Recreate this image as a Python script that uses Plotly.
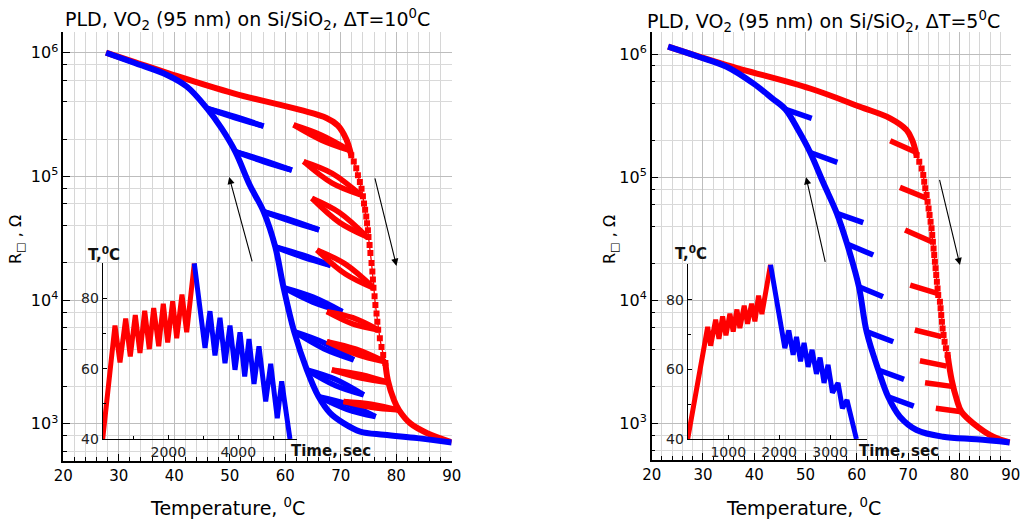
import plotly.graph_objects as go

W, H = 1020, 521
RED = "#ff0000"
BLUE = "#0000ff"
FONT = "DejaVu Sans"

# ================= LEFT PANEL (dT = 10 C) =================
L_heat_T = [27.7, 33.0, 38.7, 50.7, 62.7, 67.5, 69.5, 71.0, 71.9]
L_heat_logR = [6.0, 5.922, 5.838, 5.672, 5.537, 5.47, 5.41, 5.30, 5.17]
L_heatdot_T = [71.9, 72.35, 72.8, 73.1, 73.45, 73.75, 74.0, 74.2, 74.4, 74.6, 74.75, 74.9, 75.0,
               75.2, 75.35, 75.55, 75.7, 75.8, 75.9, 76.1, 76.25, 76.45, 76.6, 76.75, 77.05,
               77.35, 77.65, 78.05]
L_heatdot_logR = [5.17, 5.12, 5.065, 5.01, 4.955, 4.9, 4.84, 4.78, 4.73, 4.675, 4.62, 4.565, 4.51,
                  4.445, 4.38, 4.30, 4.23, 4.165, 4.10, 4.03, 3.96, 3.89, 3.825, 3.76, 3.69,
                  3.62, 3.555, 3.49]
L_heatlow_T = [78.05, 78.5, 79.6, 80.5, 82.6, 85.6, 90.0]
L_heatlow_logR = [3.49, 3.35, 3.19, 3.11, 3.0, 2.923, 2.85]

L_cool_T = [27.7, 33.0, 38.7, 42.3, 45.9, 48.5, 51.0, 53.6, 56.1, 58.2, 59.7, 61.6, 63.9, 66.0,
            68.1, 70.5, 73.5, 77.8, 83.8, 90.0]
L_cool_logR = [6.0, 5.915, 5.82, 5.725, 5.55, 5.39, 5.20, 4.93, 4.715, 4.43, 4.10, 3.745, 3.435,
               3.219, 3.085, 3.004, 2.936, 2.91, 2.883, 2.848]

# minor loops (start, end, upper-mid, lower-mid in log10 R)
L_bl_T0 = [45.9, 51.0, 56.1, 58.2, 59.7, 61.6, 63.9, 66.0]
L_bl_R0 = [5.55, 5.20, 4.715, 4.43, 4.10, 3.745, 3.435, 3.219]
L_bl_T1 = [56.1, 61.2, 66.1, 68.2, 70.3, 72.35, 74.15, 76.3]
L_bl_R1 = [5.407, 5.05, 4.567, 4.28, 3.906, 3.516, 3.233, 3.057]
L_bl_up = [5.483, 5.13, 4.646, 4.363, 4.023, 3.655, 3.359, 3.16]
L_bl_lo = [5.474, 5.12, 4.636, 4.347, 3.983, 3.606, 3.309, 3.116]

L_rl_T0 = [61.5, 63.3, 64.8, 65.7, 67.5, 67.5, 68.4, 70.5]
L_rl_R0 = [5.416, 5.12, 4.823, 4.405, 3.906, 3.664, 3.435, 3.18]
L_rl_T1 = [71.6, 73.6, 74.7, 76.0, 76.8, 78.0, 78.9, 80.5]
L_rl_R1 = [5.21, 4.85, 4.512, 4.095, 3.758, 3.50, 3.33, 3.11]
L_rl_up = [5.333, 5.025, 4.708, 4.29, 3.857, 3.602, 3.397, 3.158]
L_rl_lo = [5.293, 4.945, 4.628, 4.21, 3.807, 3.562, 3.368, 3.132]

# inset: temperature vs time
L_in_heat_t = [126, 477, 620, 783, 914, 1057, 1191, 1326, 1457, 1583, 1726, 1857, 1983, 2126,
               2240, 2391, 2526, 2743]
L_in_heat_T = [40, 72.3, 61.8, 74.3, 63.5, 75.3, 64.5, 76.5, 65.6, 77.3, 66.4, 78.5, 67.5, 79.2,
               68.7, 81.1, 70.4, 90]
L_in_cool_t = [2743, 3049, 3191, 3334, 3477, 3620, 3763, 3906, 4049, 4183, 4306, 4449, 4591,
               4783, 4926, 5114, 5240, 5477]
L_in_cool_T = [90, 65.9, 76.4, 63.8, 74.5, 61.6, 72.3, 59.7, 70.4, 57.8, 68.5, 55.7, 66.4,
               50.7, 61.4, 45.9, 56.4, 40]

# ================= RIGHT PANEL (dT = 5 C) =================
R_heat_T = [23.2, 34.6, 50.9, 60.6, 66.5, 69.7, 70.8, 71.65]
R_heat_logR = [6.06, 5.91, 5.72, 5.572, 5.478, 5.383, 5.30, 5.18]
R_heatdot_T = [71.65, 72.17, 72.63, 72.95, 73.14, 73.34, 73.6, 73.79, 73.99, 74.18, 74.38, 74.57,
               74.7, 74.83, 74.96, 75.09, 75.22, 75.35, 75.48, 75.61, 75.74, 75.87, 76.2,
               76.33, 76.46, 76.59, 76.72, 76.91, 77.11, 77.37, 77.7]
R_heatdot_logR = [5.18, 5.125, 5.071, 5.017, 4.963, 4.909, 4.855, 4.80, 4.746, 4.692, 4.638,
                  4.584, 4.53, 4.475, 4.421, 4.367, 4.313, 4.259, 4.205, 4.151, 4.096, 4.042,
                  3.988, 3.934, 3.88, 3.826, 3.771, 3.717, 3.663, 3.609, 3.555]
R_heatlow_T = [77.7, 78.5, 79.5, 80.4, 82.7, 86.6, 89.8]
R_heatlow_logR = [3.555, 3.35, 3.19, 3.094, 3.0, 2.891, 2.845]

R_cool_T = [23.2, 29.0, 34.6, 39.8, 43.5, 46.1, 48.6, 50.9, 53.5, 56.1, 58.1, 60.4, 61.9, 64.2,
            66.1, 68.4, 71.65, 76.8, 83.35, 89.8]
R_cool_logR = [6.06, 5.98, 5.897, 5.762, 5.64, 5.55, 5.38, 5.20, 4.95, 4.706, 4.457, 4.11, 3.745,
               3.433, 3.216, 3.054, 2.946, 2.891, 2.87, 2.845]

R_bb_T0 = [46.1, 50.9, 56.1, 58.1, 60.4, 61.9, 64.2, 66.1]
R_bb_R0 = [5.55, 5.20, 4.706, 4.457, 4.11, 3.745, 3.433, 3.216]
R_bb_T1 = [51.2, 56.2, 61.25, 63.2, 65.1, 67.1, 69.2, 71.1]
R_bb_R1 = [5.478, 5.12, 4.63, 4.367, 4.028, 3.663, 3.357, 3.14]

R_rb_T0 = [66.5, 68.4, 69.4, 70.4, 71.3, 72.3, 73.3, 75.4]
R_rb_R0 = [5.296, 4.917, 4.570, 4.123, 3.758, 3.508, 3.330, 3.122]
R_rb_T1 = [71.3, 73.6, 74.6, 75.7, 76.5, 77.5, 78.5, 80.4]
R_rb_R1 = [5.206, 4.828, 4.475, 4.056, 3.704, 3.465, 3.30, 3.094]

R_in_heat_t = [204, 596, 655, 753, 818, 890, 955, 1033, 1098, 1171, 1229, 1314, 1380, 1459,
               1524, 1596, 1661, 1831]
R_in_heat_T = [40, 72.2, 66.8, 74.3, 68.8, 75.2, 69.8, 76.0, 70.9, 77.2, 71.9, 78.3, 73.1, 78.9,
               73.8, 81.2, 75.9, 90.1]
R_in_cool_t = [1831, 2112, 2190, 2275, 2341, 2420, 2490, 2569, 2647, 2733, 2804, 2882, 2961,
               3047, 3157, 3243, 3333, 3518]
R_in_cool_T = [90.1, 66.1, 71.2, 64.2, 69.3, 62.3, 67.6, 60.7, 65.6, 58.7, 63.4, 56.1, 61.3,
               53.3, 56.1, 48.8, 51.2, 40]

# ---- axis tick labels ----
T_ticks = [20, 30, 40, 50, 60, 70, 80, 90]
R_ticks = [1e3, 1e4, 1e5, 1e6]
R_ticktext = ["10<sup>3</sup>", "10<sup>4</sup>", "10<sup>5</sup>", "10<sup>6</sup>"]
R_minor = [m * 10 ** e for e in (2, 3, 4, 5) for m in (2, 4, 6, 8)]

fig = go.Figure()


def P(v):
    return [10 ** x for x in v]


def line(xs, ys, color, xa, ya, width=6, shape="spline"):
    fig.add_trace(go.Scatter(x=xs, y=ys, mode="lines", xaxis=xa, yaxis=ya,
                             line=dict(color=color, width=width, shape=shape),
                             hoverinfo="skip", showlegend=False))


def dotted(xs, ys, color, xa, ya):
    fig.add_trace(go.Scatter(x=xs, y=P(ys), mode="lines+markers", xaxis=xa, yaxis=ya,
                             line=dict(color=color, width=1.3),
                             marker=dict(symbol="square", size=6, color=color),
                             hoverinfo="skip", showlegend=False))


def loops(T0, R0, T1, R1, up, lo, color, xa, ya):
    for i in range(len(T0)):
        tm = (T0[i] + T1[i]) / 2
        line([T0[i], tm, T1[i]], P([R0[i], up[i], R1[i]]), color, xa, ya, width=5.5)
        line([T0[i], tm, T1[i]], P([R0[i], lo[i], R1[i]]), color, xa, ya, width=5.5)


def branches(T0, R0, T1, R1, color, xa, ya):
    for i in range(len(T0)):
        line([T0[i], T1[i]], P([R0[i], R1[i]]), color, xa, ya, width=5.5, shape="linear")


# left main
loops(L_bl_T0, L_bl_R0, L_bl_T1, L_bl_R1, L_bl_up, L_bl_lo, BLUE, "x", "y")
loops(L_rl_T0, L_rl_R0, L_rl_T1, L_rl_R1, L_rl_up, L_rl_lo, RED, "x", "y")
line(L_heat_T, P(L_heat_logR), RED, "x", "y")
dotted(L_heatdot_T, L_heatdot_logR, RED, "x", "y")
line(L_heatlow_T, P(L_heatlow_logR), RED, "x", "y")
line(L_cool_T, P(L_cool_logR), BLUE, "x", "y")
# left inset
line(L_in_heat_t, L_in_heat_T, RED, "x2", "y2", width=5, shape="linear")
line(L_in_cool_t, L_in_cool_T, BLUE, "x2", "y2", width=5, shape="linear")

# right main
branches(R_bb_T0, R_bb_R0, R_bb_T1, R_bb_R1, BLUE, "x3", "y3")
branches(R_rb_T0, R_rb_R0, R_rb_T1, R_rb_R1, RED, "x3", "y3")
line(R_heat_T, P(R_heat_logR), RED, "x3", "y3")
dotted(R_heatdot_T, R_heatdot_logR, RED, "x3", "y3")
line(R_heatlow_T, P(R_heatlow_logR), RED, "x3", "y3")
line(R_cool_T, P(R_cool_logR), BLUE, "x3", "y3")
# right inset
line(R_in_heat_t, R_in_heat_T, RED, "x4", "y4", width=5, shape="linear")
line(R_in_cool_t, R_in_cool_T, BLUE, "x4", "y4", width=5, shape="linear")


def main_x(dom, anchor):
    return dict(domain=dom, anchor=anchor, range=[20, 90], tickvals=T_ticks, automargin=False,
                ticklabeloverflow="allow",
                ticks="inside", ticklen=7, tickwidth=1.2, tickcolor="black",
                showline=True, linecolor="black", linewidth=1.5,
                showgrid=True, gridcolor="#bdbdbd", gridwidth=1, zeroline=False,
                minor=dict(dtick=2, tick0=20, ticks="inside", ticklen=4, tickcolor="black",
                           showgrid=True, gridcolor="#d6d6d6"),
                tickfont=dict(family=FONT, size=15, color="black"))


def main_y(dom, anchor, rng):
    return dict(domain=dom, anchor=anchor, type="log", range=rng, automargin=False,
                ticklabeloverflow="allow",
                tickvals=R_ticks, ticktext=R_ticktext,
                ticks="inside", ticklen=7, tickwidth=1.2, tickcolor="black",
                showline=True, linecolor="black", linewidth=1.5,
                showgrid=True, gridcolor="#bdbdbd", zeroline=False,
                minor=dict(tickmode="array", tickvals=R_minor, ticks="inside", ticklen=4,
                           tickcolor="black", showgrid=True, gridcolor="#d9d9d9"),
                tickfont=dict(family=FONT, size=16, color="black"))


def inset_x(dom, anchor, rng, tv, mv):
    return dict(domain=dom, anchor=anchor, range=rng, tickvals=tv, automargin=False,
                ticks="inside", ticklen=4, tickcolor="black",
                showline=True, linecolor="black", linewidth=1.2,
                showgrid=False, zeroline=False,
                minor=dict(tickmode="array", tickvals=mv, ticks="inside", ticklen=3,
                           tickcolor="black", showgrid=False),
                tickfont=dict(family=FONT, size=14, color="#222"))


def inset_y(dom, anchor):
    return dict(domain=dom, anchor=anchor, range=[40, 90.2], tickvals=[40, 60, 80],
                automargin=False,
                ticks="inside", ticklen=4, tickcolor="black",
                showline=True, linecolor="black", linewidth=1.2,
                showgrid=False, zeroline=False,
                minor=dict(tickmode="array", tickvals=[50, 70, 90], ticks="inside",
                           ticklen=3, tickcolor="black", showgrid=False),
                tickfont=dict(family=FONT, size=14, color="#222"))


fig.update_layout(
    width=W, height=H, autosize=False,
    margin=dict(l=0, r=0, t=0, b=0, pad=0, autoexpand=False),
    paper_bgcolor="white", plot_bgcolor="rgba(0,0,0,0)",
    font=dict(family=FONT, color="black"),
    xaxis=main_x([63.3 / W, 451.7 / W], "y"),
    yaxis=main_y([1 - 461 / H, 1 - 31.7 / H], "x", [2.698, 6.17]),
    xaxis2=inset_x([102.7 / W, 296.7 / W], "y2", [126, 5669], [2000, 4000], [1000, 3000, 5000]),
    yaxis2=inset_y([1 - 439 / H, 1 - 262.7 / H], "x2"),
    xaxis3=main_x([651.7 / W, 1010.7 / W], "y3"),
    yaxis3=main_y([1 - 460 / H, 1 - 32 / H], "x3", [2.702, 6.179]),
    xaxis4=inset_x([687.7 / W, 866.7 / W], "y4", [204, 3720], [1000, 2000, 3000], []),
    yaxis4=inset_y([1 - 439 / H, 1 - 264.3 / H], "x4"),
)

ann = []


def txt(x, y, s, size, bold=False, angle=0):
    ann.append(dict(x=x / W, y=1 - y / H, xref="paper", yref="paper", text=s,
                    showarrow=False, textangle=angle, xanchor="center", yanchor="middle",
                    font=dict(family=FONT, size=size, color="black" if not bold else "#111",
                              weight="bold" if bold else "normal")))


txt(247.5, 20, "PLD, VO<sub>2</sub> (95 nm) on Si/SiO<sub>2</sub>, ΔT=10<sup>0</sup>C", 19)
txt(823, 21, "PLD, VO<sub>2</sub> (95 nm) on Si/SiO<sub>2</sub>, ΔT=5<sup>0</sup>C", 19)
txt(16, 240, "R<sub>□</sub> , Ω", 16, angle=-90)
txt(610, 240, "R<sub>□</sub> , Ω", 16, angle=-90)
txt(227.5, 507, "Temperature, <sup>0</sup>C", 19)
txt(803, 507, "Temperature, <sup>0</sup>C", 19)
txt(104, 254, "T,<sup>0</sup>C", 15, bold=True)
txt(691, 253, "T,<sup>0</sup>C", 15, bold=True)
txt(331, 451, "Time, sec", 15, bold=True)
txt(899, 451, "Time, sec", 15, bold=True)

# arrows (log10 coordinates on log axes)
for xr, yr, (tx, ty, hx, hy) in [
    ("x", "y", (54.1, 4.30, 49.9, 4.995)),
    ("x", "y", (76.1, 4.995, 80.05, 4.276)),
    ("x3", "y3", (53.9, 4.30, 50.1, 5.0)),
    ("x3", "y3", (76.06, 4.99, 80.1, 4.286)),
]:
    ann.append(dict(x=hx, y=hy, ax=tx, ay=ty, xref=xr, yref=yr, axref=xr, ayref=yr,
                    text="", showarrow=True, arrowhead=2, arrowsize=1.3, arrowwidth=1.1,
                    arrowcolor="black"))

fig.update_layout(annotations=ann)
fig.write_html(
    "out.html",
    config={"displayModeBar": False},
    post_script="document.body.style.margin='0px';"
                "document.documentElement.style.overflow='hidden';",
)
